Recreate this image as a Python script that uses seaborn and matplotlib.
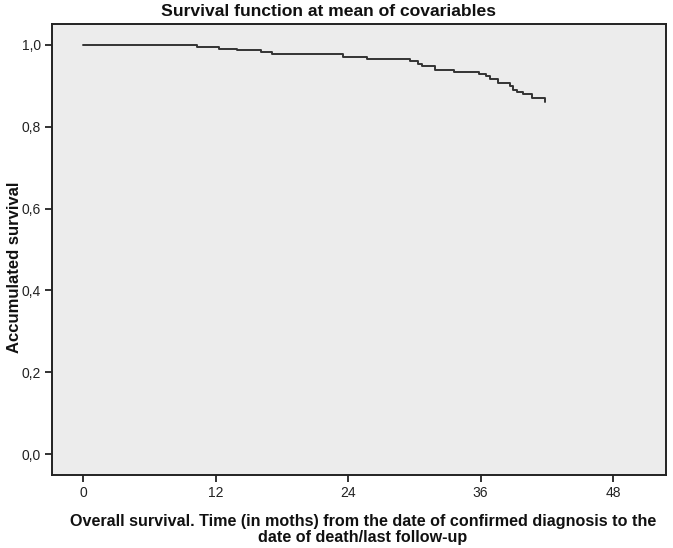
import matplotlib
matplotlib.use("Agg")
import matplotlib.pyplot as plt
import seaborn as sns
import pandas as pd

# ---- data ----
times = [0, 10.3, 12.3, 13.9, 16.1, 17.1, 23.5, 25.7, 29.6, 30.3, 30.7, 31.9,
         33.6, 35.9, 36.5, 36.9, 37.6, 38.7, 38.95, 39.3, 39.85, 40.65, 41.8]
survival = [1.0, 0.994, 0.991, 0.987, 0.983, 0.977, 0.971, 0.965, 0.960, 0.954,
            0.948, 0.940, 0.934, 0.928, 0.923, 0.918, 0.908, 0.899, 0.891,
            0.885, 0.879, 0.870, 0.861]
x_ticks = [0, 12, 24, 36, 48]
y_ticks = [0.0, 0.2, 0.4, 0.6, 0.8, 1.0]
y_tick_labels = ["0,0", "0,2", "0,4", "0,6", "0,8", "1,0"]

title = "Survival function at mean of covariables"
xlabel = "Overall survival. Time (in moths) from the date of confirmed diagnosis to the\ndate of death/last follow-up"
ylabel = "Accumulated survival"

df = pd.DataFrame({"time": times, "survival": survival})

sns.set_style("white")
plt.rcParams["font.family"] = ["Liberation Sans", "DejaVu Sans"]

fig = plt.figure(figsize=(6.73, 5.48), dpi=100)
ax = fig.add_axes([0.0777, 0.1332, 0.9896 - 0.0777, 0.956 - 0.1332])
ax.set_facecolor("#ececec")

sns.lineplot(data=df, x="time", y="survival", ax=ax, drawstyle="steps-post",
             color="#333333", linewidth=1.4)

ax.set_xlim(-2.8, 52.8)
ax.set_ylim(-0.051, 1.051)
ax.set_xticks(x_ticks)
ax.set_xticklabels([str(t) for t in x_ticks], fontsize=10)
ax.set_yticks(y_ticks)
ax.set_yticklabels(y_tick_labels, fontsize=10)
ax.tick_params(axis="both", which="major", direction="out", length=5, width=1.3,
               color="#222222", pad=3, labelcolor="#222222",
               bottom=True, left=True, top=False, right=False)
for sp in ax.spines.values():
    sp.set_visible(True)
    sp.set_color("#222222")
    sp.set_linewidth(1.4)

ax.set_xlabel(xlabel, fontsize=11.6, fontweight="bold",
              color="#111111", linespacing=1.1, ha="center", va="top")
ax.xaxis.set_label_coords(0.506, -0.086)
ax.set_ylabel(ylabel, fontsize=12, fontweight="bold", color="#111111")
ax.yaxis.set_label_coords(-0.049, 0.46)
fig.text(0.488, 0.979, title, ha="center", va="center", fontsize=12.6,
         fontweight="bold", color="#111111")

fig.savefig("out.png", dpi=100)
